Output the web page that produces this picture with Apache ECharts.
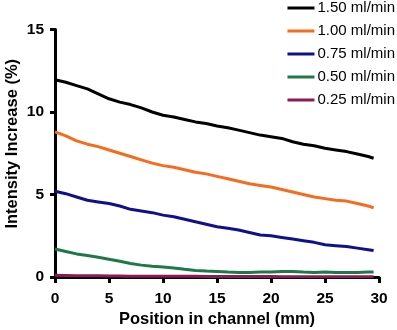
<!DOCTYPE html>
<html>
<head>
<meta charset="utf-8">
<script src="https://cdn.jsdelivr.net/npm/echarts@6/dist/echarts.min.js"></script>
<style>
  html, body { margin: 0; padding: 0; background: #fff; }
  #chart { width: 397px; height: 330px; }
</style>
</head>
<body>
<div id="chart"></div>
<script>
// 通道位置 (mm)
var positions = [0, 1, 2, 3, 4, 5, 6, 7, 8, 9, 10, 11, 12, 13, 14, 15, 16, 17, 18, 19, 20, 21, 22, 23, 24, 25, 26, 27, 28, 29, 29.5];

var flow150 = [11.95, 11.8, 11.6, 11.4, 11.1, 10.8, 10.6, 10.45, 10.25, 10.0, 9.8, 9.7, 9.55, 9.4, 9.3, 9.15, 9.05, 8.9, 8.75, 8.6, 8.5, 8.4, 8.2, 8.05, 7.95, 7.8, 7.7, 7.6, 7.45, 7.3, 7.2];
var flow100 = [8.8, 8.55, 8.25, 8.05, 7.9, 7.7, 7.5, 7.3, 7.1, 6.9, 6.75, 6.65, 6.5, 6.35, 6.25, 6.1, 5.95, 5.8, 5.65, 5.55, 5.45, 5.3, 5.15, 5.0, 4.85, 4.75, 4.65, 4.6, 4.45, 4.3, 4.2];
var flow075 = [5.2, 5.05, 4.85, 4.65, 4.55, 4.45, 4.3, 4.1, 4.0, 3.9, 3.75, 3.65, 3.5, 3.35, 3.2, 3.05, 2.95, 2.85, 2.7, 2.55, 2.5, 2.4, 2.3, 2.2, 2.1, 1.95, 1.9, 1.85, 1.75, 1.65, 1.6];
var flow050 = [1.7, 1.55, 1.4, 1.3, 1.2, 1.07, 0.95, 0.82, 0.72, 0.65, 0.6, 0.55, 0.47, 0.4, 0.36, 0.33, 0.3, 0.28, 0.28, 0.3, 0.3, 0.33, 0.33, 0.3, 0.28, 0.3, 0.28, 0.27, 0.27, 0.3, 0.3];
var flow025 = [0.1, 0.09, 0.08, 0.07, 0.07, 0.06, 0.06, 0.05, 0.05, 0.05, 0.04, 0.04, 0.04, 0.04, 0.03, 0.03, 0.03, 0.03, 0.03, 0.03, 0.03, 0.02, 0.02, 0.02, 0.02, 0.02, 0.02, 0.02, 0.02, 0.02, 0.02];

var seriesNames = ['1.50 ml/min', '1.00 ml/min', '0.75 ml/min', '0.50 ml/min', '0.25 ml/min'];
var seriesColors = ['#000000', '#f86a1e', '#10108c', '#1d7a48', '#8c1a55'];
var seriesValues = [flow150, flow100, flow075, flow050, flow025];

var xTicks = [0, 30, 5];   // min, max, interval
var yTicks = [0, 15, 5];

var fontFamily = '"Liberation Sans", Arial, sans-serif';

var chart = echarts.init(document.getElementById('chart'));

var series = seriesNames.map(function (name, i) {
    return {
        name: name,
        type: 'line',
        symbol: 'none',
        z: 10 - i,
        lineStyle: { width: 3, color: seriesColors[i] },
        itemStyle: { color: seriesColors[i] },
        data: positions.map(function (p, j) { return [p, seriesValues[i][j]]; })
    };
});

var option = {
    backgroundColor: '#fff',
    animation: false,
    grid: { left: 55, right: 18, top: 29.5, bottom: 53, outerBoundsMode: 'none', containLabel: false },
    legend: {
        orient: 'vertical',
        right: 2,
        top: 0,
        padding: 0,
        itemGap: 7,
        itemWidth: 27,
        itemHeight: 3,
        icon: 'rect',
        textStyle: { fontFamily: fontFamily, fontSize: 15, color: '#000', lineHeight: 16, padding: [0, 0, 0, -2] },
        data: seriesNames
    },
    xAxis: {
        type: 'value',
        min: xTicks[0],
        max: xTicks[1],
        interval: xTicks[2],
        name: 'Position in channel (mm)',
        nameLocation: 'middle',
        nameGap: 34,
        nameMoveOverlap: false,
        nameTextStyle: { fontFamily: fontFamily, fontSize: 16.5, fontWeight: 'bold', color: '#000' },
        axisLine: { lineStyle: { color: '#000', width: 3 } },
        axisTick: { length: 6, lineStyle: { color: '#000', width: 3 } },
        axisLabel: { margin: 14, fontFamily: fontFamily, fontSize: 15.5, fontWeight: 'bold', color: '#000' },
        splitLine: { show: false }
    },
    yAxis: {
        type: 'value',
        min: yTicks[0],
        max: yTicks[1],
        interval: yTicks[2],
        name: 'Intensity Increase (%)',
        nameLocation: 'middle',
        nameGap: 34,
        nameMoveOverlap: false,
        nameTextStyle: { fontFamily: fontFamily, fontSize: 16.5, fontWeight: 'bold', color: '#000', padding: [0, 0, 0, 19] },
        axisLine: { show: true, lineStyle: { color: '#000', width: 3 } },
        axisTick: { show: true, length: 5, lineStyle: { color: '#000', width: 3 } },
        axisLabel: { margin: 11, fontFamily: fontFamily, fontSize: 15.5, fontWeight: 'bold', color: '#000' },
        splitLine: { show: false }
    },
    series: series
};

chart.setOption(option);
</script>
</body>
</html>
